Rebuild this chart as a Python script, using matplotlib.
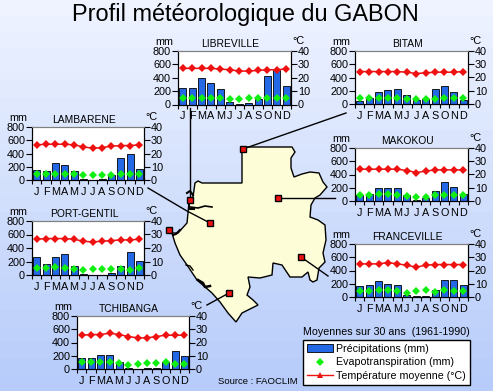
import numpy as np
import matplotlib
matplotlib.use("Agg")
import matplotlib.pyplot as plt
from matplotlib.lines import Line2D
from matplotlib.patches import Patch, Polygon

plt.rcParams["font.family"] = ["Liberation Sans", "DejaVu Sans"]

W, H = 493, 391

mois = ["J", "F", "M", "A", "M", "J", "J", "A", "S", "O", "N", "D"]

# station, precipitations, evapotranspiration, temperature
libreville_p = [250, 250, 390, 325, 235, 30, 5, 15, 85, 420, 510, 280]
libreville_e = [100, 100, 100, 100, 95, 80, 80, 95, 95, 95, 95, 95]
libreville_t = [27, 27, 27, 27, 26.5, 26, 25, 25, 25.5, 26, 26, 26.5]

bitam_p = [40, 90, 175, 205, 225, 130, 60, 70, 225, 270, 175, 60]
bitam_e = [90, 95, 95, 95, 95, 80, 75, 80, 75, 90, 90, 90]
bitam_t = [24.5, 24.5, 24.5, 24.5, 24.5, 24, 23, 23.5, 24, 24, 24, 24.5]

lambarene_p = [155, 140, 260, 230, 140, 20, 5, 10, 70, 325, 400, 170]
lambarene_e = [85, 90, 95, 95, 95, 75, 75, 75, 75, 90, 85, 90]
lambarene_t = [26.5, 27, 27, 27, 26.5, 25, 24, 24.5, 25.5, 26, 26, 26.5]

portgentil_p = [260, 170, 260, 310, 140, 20, 5, 5, 30, 140, 340, 205]
portgentil_e = [100, 105, 115, 105, 90, 80, 85, 90, 85, 85, 80, 100]
portgentil_t = [26.5, 27, 27, 27, 26.5, 25, 24.5, 25, 25.5, 26, 26, 26.5]

tchibanga_p = [170, 160, 205, 205, 100, 10, 5, 10, 20, 105, 270, 190]
tchibanga_e = [100, 100, 100, 105, 85, 65, 70, 85, 85, 105, 80, 80]
tchibanga_t = [25.5, 26, 26, 27, 26, 24.5, 23.5, 23.5, 24.5, 25.5, 25.5, 25.5]

makokou_p = [85, 110, 200, 200, 200, 85, 20, 50, 155, 290, 215, 110]
makokou_e = [90, 90, 100, 100, 95, 75, 60, 60, 85, 95, 90, 85]
makokou_t = [24, 24, 24, 24, 24, 23, 21.5, 22.5, 23.5, 23.5, 23.5, 23.5]

franceville_p = [170, 185, 245, 200, 185, 30, 15, 15, 110, 260, 260, 185]
franceville_e = [95, 85, 100, 100, 85, 65, 85, 100, 80, 100, 85, 85]
franceville_t = [25, 25, 25, 26, 25, 24, 22.5, 24, 24.5, 24.5, 24.5, 24.5]

# contour du pays, en pixels de l'image
gabon_x = [242, 292, 295, 291, 291, 294, 302, 310, 319, 323, 327, 320, 315, 311, 310, 318, 325, 326, 323, 325, 319, 317, 313, 310, 308, 302, 290, 282, 273, 272, 260, 248, 250, 247, 253, 258, 248, 242, 236, 228, 220, 212, 205, 197, 187, 180, 175, 172, 178, 187, 188, 189, 193, 195, 198, 202, 235, 242]
gabon_y = [147, 147, 152, 158, 168, 177, 174, 172, 173, 182, 187, 195, 198, 205, 217, 220, 225, 240, 253, 262, 268, 280, 282, 280, 272, 277, 277, 265, 263, 275, 278, 277, 287, 295, 300, 305, 310, 313, 322, 313, 302, 293, 287, 280, 265, 255, 243, 233, 233, 223, 213, 203, 197, 183, 181, 183, 183, 183]

marqueurs_x = [190, 243, 210, 169, 278, 301, 229]
marqueurs_y = [200, 149, 223, 230, 198, 257, 293]


def px_axes(x0, x1, ytop, ybot):
    return [x0 / W, 1 - ybot / H, (x1 - x0) / W, (ybot - ytop) / H]


fig = plt.figure(figsize=(W / 100, H / 100), dpi=100)

# fond degrade en bandes + carte
bg = fig.add_axes([0, 0, 1, 1])
bandes = np.linspace(0, 1, 24).reshape(-1, 1)
haut = np.array([238, 243, 255]) / 255
bas = np.array([183, 204, 250]) / 255
bg.imshow(haut + (bas - haut) * bandes[:, :, None], extent=[0, W, H, 0], aspect="auto")
bg.set_xlim(0, W)
bg.set_ylim(H, 0)
bg.axis("off")

bg.add_patch(Polygon(np.column_stack([gabon_x, gabon_y]), closed=True, fc="#fdfdd8", ec="black", lw=1))
# estuaire et lagunes
bg.plot([190, 198, 205, 212], [207, 208, 206, 207], color="black", lw=1.2)
bg.plot([187, 190, 193], [193, 191, 195], color="black", lw=1.5)
bg.plot([189, 189, 194], [203, 209, 209], color="black", lw=1.5)
bg.plot([173, 176, 180], [235, 234, 230], color="black", lw=1.5)
bg.plot([198, 203, 205, 210], [280, 283, 287, 286], color="black", lw=1.8)
bg.plot([186, 190, 193], [265, 266, 270], color="black", lw=1)

# traits vers les stations
bg.plot([190, 190], [108, 200], color="black", lw=1)
bg.plot([243, 346], [149, 113], color="black", lw=1)
bg.plot([148, 187, 210], [188, 211, 223], color="black", lw=1)
bg.plot([278, 335], [198, 198], color="black", lw=1)
bg.plot([301, 328], [257, 276], color="black", lw=1)
bg.plot([229, 207], [293, 305], color="black", lw=1)
bg.plot(marqueurs_x, marqueurs_y, "s", color="#ee1111", mec="black", mew=1, ms=3.8, ls="none")

bg.text(245, 15, "Profil météorologique du GABON", ha="center", va="center", fontsize=16.9)
bg.text(386.5, 332, "Moyennes sur 30 ans  (1961-1990)", ha="center", va="center", fontsize=7.65)
bg.text(218, 381.5, "Source : FAOCLIM", ha="left", va="center", fontsize=6.8)

FS = 7.8


def station(nom, box, p, e, t):
    x0, x1, ytop, ybot = box
    x = np.arange(12)
    ax = fig.add_axes(px_axes(x0, x1, ytop, ybot))
    ax.set_facecolor("white")
    ax.bar(x, p, width=0.75, color="#2468e6", edgecolor="black", linewidth=0.6)
    ax.plot(x, e, "D", color="#11ee11", ms=4.2, mew=0, ls="none", zorder=4)
    ax.set_xlim(-0.5, 11.5)
    ax.set_ylim(0, 800)
    ax.set_yticks([0, 200, 400, 600, 800])
    ax.set_xticks(np.arange(-0.5, 12, 1))
    ax.set_xticklabels([])
    ax.set_xticks(x, minor=True)
    ax.set_xticklabels(mois, minor=True)
    ax.tick_params(axis="x", which="major", length=3, width=0.8)
    ax.tick_params(axis="x", which="minor", length=0, pad=5, labelsize=FS)
    ax.tick_params(axis="y", length=4, width=0.8, pad=1, labelsize=FS)
    ax.spines["top"].set_color("#808080")

    ax2 = ax.twinx()
    ax2.plot(x, t, color="#ee1111", lw=1.1, marker="D", ms=4, mew=0, zorder=5)
    ax2.set_ylim(0, 40)
    ax2.set_yticks([0, 10, 20, 30, 40])
    ax2.tick_params(axis="y", length=4, width=0.8, pad=1, labelsize=FS)
    ax2.spines["top"].set_color("#808080")

    bg.text((x0 + x1) / 2 - 4, ytop - 7, nom, ha="center", va="center", fontsize=7.4, zorder=3)
    bg.text(x0 - 14, ytop - 9, "mm", ha="center", va="center", fontsize=FS)
    bg.text(x1 + 7, ytop - 10, "°C", ha="center", va="center", fontsize=FS)


station("LIBREVILLE", (178, 291, 51, 104.5), libreville_p, libreville_e, libreville_t)
station("BITAM", (355, 468, 51, 104), bitam_p, bitam_e, bitam_t)
station("LAMBARENE", (32, 144, 127, 180), lambarene_p, lambarene_e, lambarene_t)
station("PORT-GENTIL", (32, 144, 221, 275), portgentil_p, portgentil_e, portgentil_t)
station("TCHIBANGA", (77, 189, 316, 369), tchibanga_p, tchibanga_e, tchibanga_t)
station("MAKOKOU", (355, 468, 148, 201), makokou_p, makokou_e, makokou_t)
station("FRANCEVILLE", (355, 468, 244, 297), franceville_p, franceville_e, franceville_t)

handles = [
    Patch(facecolor="#2468e6", edgecolor="black", linewidth=0.6),
    Line2D([], [], marker="D", color="#11ee11", ms=4.5, mew=0, ls="none"),
    Line2D([], [], marker="^", color="#ee1111", ms=4, mew=0, lw=1),
]
labels = ["Précipitations (mm)", "Evapotranspiration (mm)", "Température moyenne (°C)"]
leg = bg.legend(handles, labels, loc="upper left", bbox_to_anchor=(303 / W, 1 - 340 / H), borderaxespad=0,
                fontsize=7.7, frameon=True, fancybox=False, framealpha=1, edgecolor="black",
                handlelength=2.45, handleheight=0.8, handletextpad=0.3, labelspacing=0.32, borderpad=0.38)
leg.get_frame().set_linewidth(1)

fig.savefig("out.png", dpi=100)
